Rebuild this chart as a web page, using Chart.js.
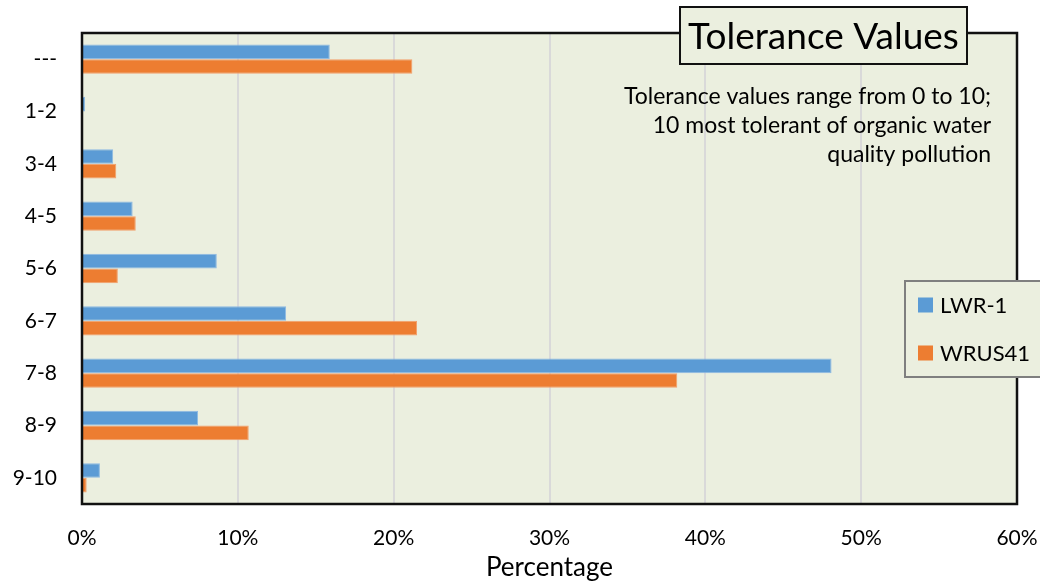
<!DOCTYPE html>
<html>
<head>
<meta charset="utf-8">
<script src="https://cdn.jsdelivr.net/npm/chart.js@4"></script>
<style>
  html,body{margin:0;padding:0;background:#fff;}
  #wrap{width:1040px;height:583px;position:relative;}
</style>
</head>
<body>
<div id="wrap"><canvas id="chart" width="1040" height="583"></canvas></div>
<script>
// tolerance value classes (y axis, top to bottom)
const categories = ['---','1-2','3-4','4-5','5-6','6-7','7-8','8-9','9-10'];
const seriesNames = ['LWR-1','WRUS41'];
const lwr1 = [15.9, 0.2, 2.0, 3.25, 8.65, 13.1, 48.1, 7.45, 1.15];
const wrus41 = [21.2, 0, 2.2, 3.45, 2.3, 21.5, 38.2, 10.7, 0.3];
const xTicks = [0,10,20,30,40,50,60];
const titleText = 'Tolerance Values';
const noteLines = ['Tolerance values range from 0 to 10;','10 most tolerant of organic water','quality pollution'];

const COLORS = { blue:'#5B9BD5', orange:'#ED7D31', plot:'#EBEFDF', grid:'#D9D9D9', text:'#000' };
const FONT = 'Lato';

// background, frame, title box, note and legend
const decor = {
  id:'decor',
  beforeDraw(chart){
    const {ctx, chartArea:a} = chart;
    ctx.save();
    ctx.fillStyle = COLORS.plot;
    ctx.fillRect(a.left, a.top, a.right-a.left, a.bottom-a.top);
    ctx.restore();
  },
  afterDatasetsDraw(chart){
    const {ctx, chartArea:a} = chart;
    ctx.save();
    // plot frame
    ctx.strokeStyle = '#111'; ctx.lineWidth = 2.5;
    ctx.strokeRect(a.left, a.top, a.right-a.left, a.bottom-a.top);

    // title box
    ctx.fillStyle = COLORS.plot;
    ctx.fillRect(680, 7, 287, 57);
    ctx.strokeStyle = '#111'; ctx.lineWidth = 2;
    ctx.strokeRect(680, 7, 287, 57);
    ctx.fillStyle = COLORS.text;
    ctx.font = `37px ${FONT}`;
    ctx.textAlign = 'center'; ctx.textBaseline = 'middle';
    ctx.fillText(titleText, 823.5, 37);

    // note
    ctx.font = `23px ${FONT}`;
    ctx.textAlign = 'right';
    noteLines.forEach((t,i)=> ctx.fillText(t, 991, 97 + i*29));

    // legend
    ctx.fillStyle = COLORS.plot;
    ctx.fillRect(905, 281, 140, 96);
    ctx.strokeStyle = '#7F7F7F'; ctx.lineWidth = 2;
    ctx.strokeRect(905, 281, 140, 96);
    chart.data.datasets.forEach((ds,i)=>{
      const y = 305 + i*48;
      ctx.fillStyle = ds.backgroundColor;
      ctx.fillRect(918, y-7.5, 15, 15);
      ctx.fillStyle = COLORS.text;
      ctx.textAlign = 'left';
      ctx.font = `22px ${FONT}`;
      ctx.fillText(ds.label, 940, y+1);
    });
    ctx.restore();
  }
};

new Chart(document.getElementById('chart'), {
  type:'bar',
  data:{
    labels: categories,
    datasets:[
      { label: seriesNames[0], data: lwr1, backgroundColor: COLORS.blue, borderColor:'#8DB9E3', borderWidth:1,
        categoryPercentage:0.562, barPercentage:1 },
      { label: seriesNames[1], data: wrus41, backgroundColor: COLORS.orange, borderColor:'#F2A06B', borderWidth:1,
        categoryPercentage:0.562, barPercentage:1 }
    ]
  },
  options:{
    indexAxis:'y',
    responsive:false, animation:false,
    layout:{ padding:{ top:33, right:23, bottom:0, left:0 } },
    plugins:{ legend:{ display:false }, tooltip:{ enabled:false } },
    scales:{
      x:{
        min:0, max:60,
        afterBuildTicks: s => { s.ticks = xTicks.map(v=>({value:v})); },
        afterFit: s => { s.height = 79; s.paddingLeft = 0; s.paddingRight = 0; },
        grid:{ color: COLORS.grid, lineWidth:2, drawTicks:false },
        border:{ display:false },
        ticks:{ color: COLORS.text, font:{ family:FONT, size:21 }, padding:22, callback: v => v + '%' },
        title:{ display:true, text:'Percentage', color: COLORS.text, font:{ family:FONT, size:26 }, padding:{ top:0, bottom:0 } }
      },
      y:{
        afterFit: s => { s.width = 82; s.paddingTop = 0; s.paddingBottom = 0; },
        grid:{ display:false, drawTicks:false },
        border:{ display:false },
        ticks:{ color: COLORS.text, font:{ family:FONT, size:21 }, padding:25 }
      }
    }
  },
  plugins:[decor]
});
</script>
</body>
</html>
